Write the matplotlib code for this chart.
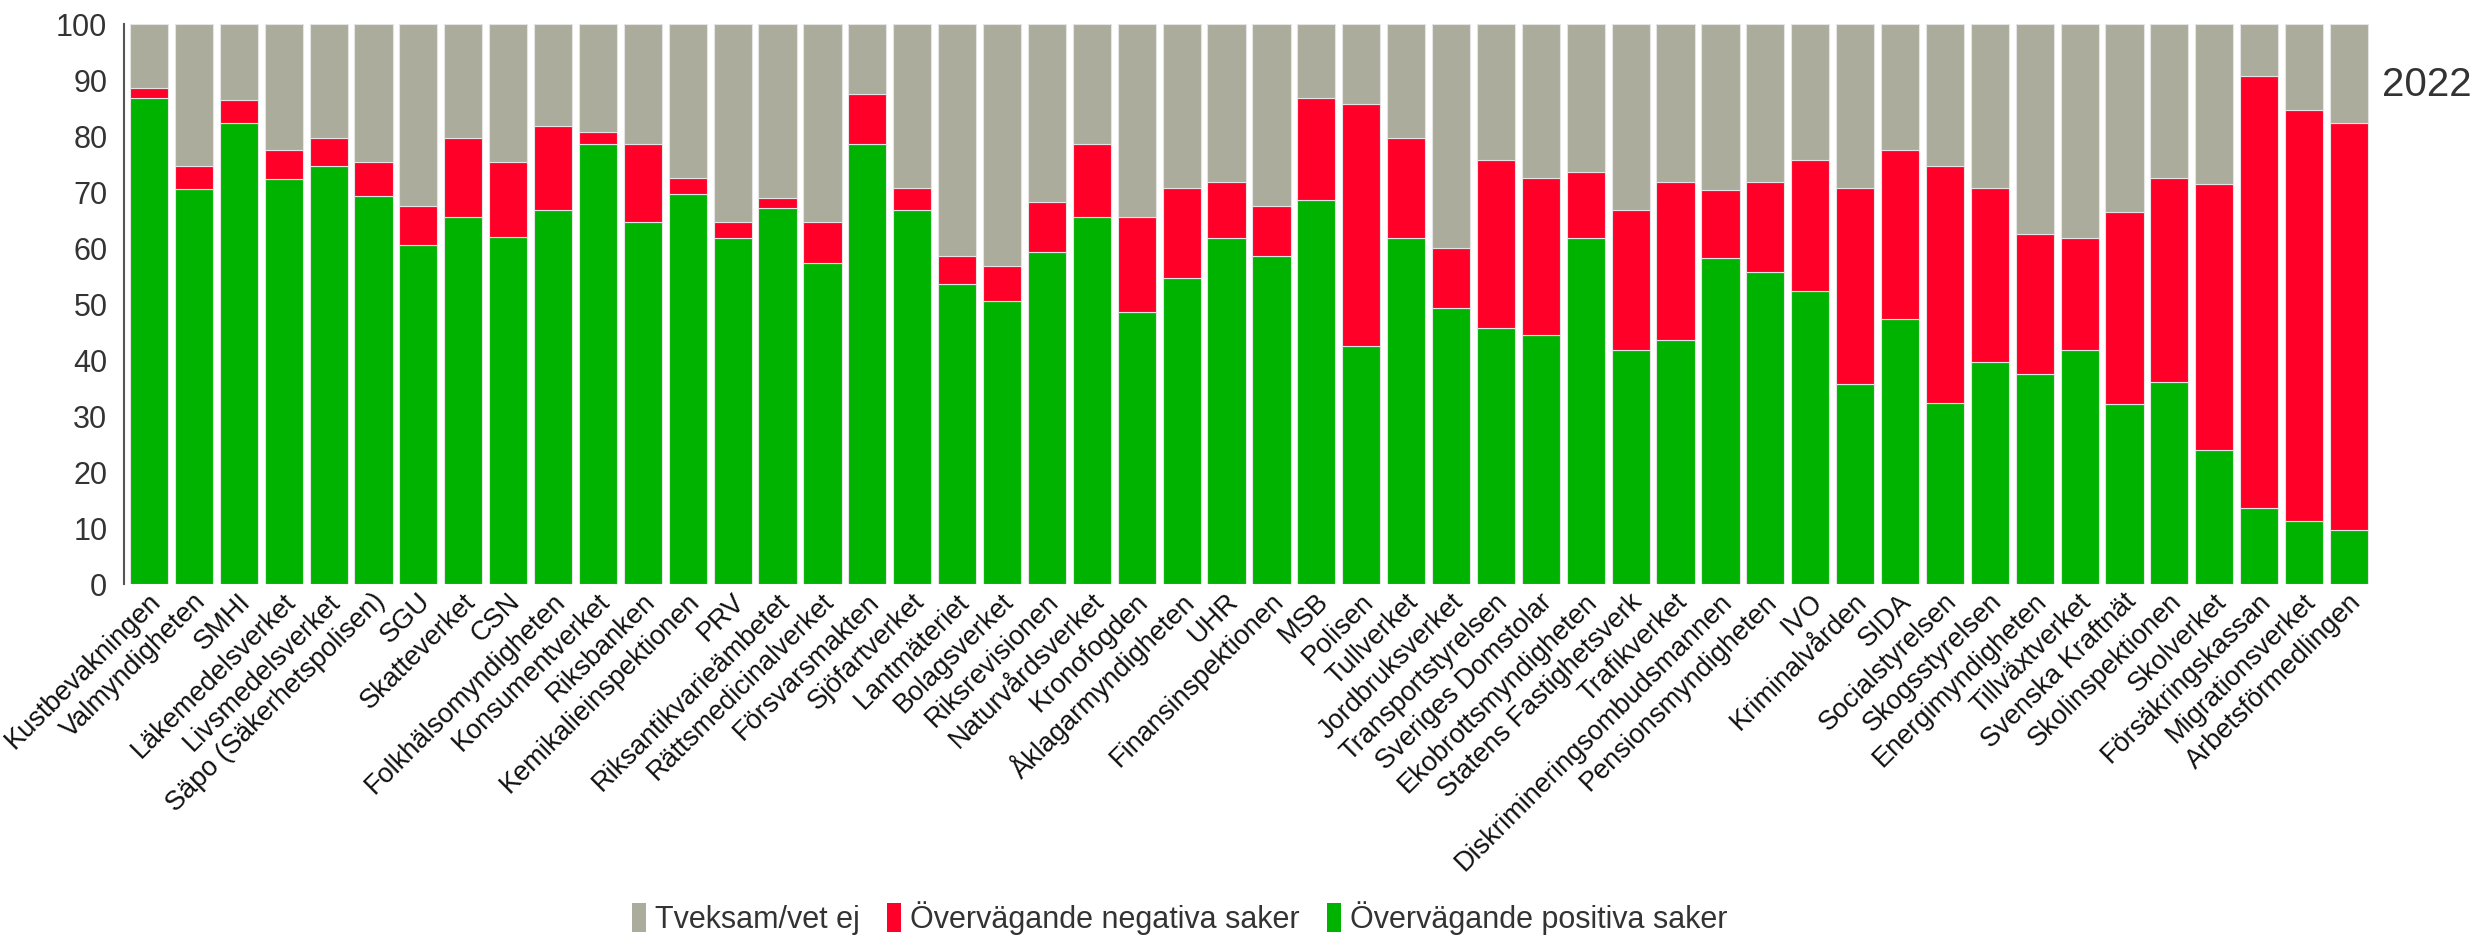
import matplotlib
matplotlib.use("Agg")
import matplotlib.pyplot as plt
import matplotlib.transforms as mtrans
from matplotlib.patches import Patch

plt.rcParams["font.family"] = ["Liberation Sans", "DejaVu Sans"]

# ── Data (percent of respondents) ─────────────────────────────────────
agencies = [
    "Kustbevakningen", "Valmyndigheten", "SMHI", "Läkemedelsverket",
    "Livsmedelsverket", "Säpo (Säkerhetspolisen)", "SGU", "Skatteverket",
    "CSN", "Folkhälsomyndigheten", "Konsumentverket", "Riksbanken",
    "Kemikalieinspektionen", "PRV", "Riksantikvarieämbetet",
    "Rättsmedicinalverket", "Försvarsmakten", "Sjöfartverket",
    "Lantmäteriet", "Bolagsverket", "Riksrevisionen", "Naturvårdsverket",
    "Kronofogden", "Åklagarmyndigheten", "UHR", "Finansinspektionen",
    "MSB", "Polisen", "Tullverket", "Jordbruksverket",
    "Transportstyrelsen", "Sveriges Domstolar", "Ekobrottsmyndigheten",
    "Statens Fastighetsverk", "Trafikverket",
    "Diskrimineringsombudsmannen", "Pensionsmyndigheten", "IVO",
    "Kriminalvården", "SIDA", "Socialstyrelsen", "Skogsstyrelsen",
    "Energimyndigheten", "Tillväxtverket", "Svenska Kraftnät",
    "Skolinspektionen", "Skolverket", "Försäkringskassan",
    "Migrationsverket", "Arbetsförmedlingen",
]

positive = [
    86.8, 70.6, 82.4, 72.4, 74.6, 69.2, 60.6, 65.6, 62.0, 66.7,
    78.5, 64.6, 69.6, 61.8, 67.1, 57.4, 78.5, 66.8, 53.6, 50.6,
    59.3, 65.6, 48.5, 54.6, 61.8, 58.6, 68.5, 42.5, 61.8, 49.3,
    45.7, 44.5, 61.8, 41.7, 43.5, 58.2, 55.7, 52.4, 35.7, 47.4,
    32.4, 39.6, 37.5, 41.7, 32.1, 36.0, 23.9, 13.5, 11.3, 9.6,
]
negative = [
    1.7, 4.0, 4.0, 5.1, 5.0, 6.1, 6.9, 14.0, 13.3, 15.0,
    2.2, 13.9, 2.9, 2.8, 1.8, 7.2, 9.0, 3.9, 5.0, 6.1,
    8.9, 12.9, 17.1, 16.1, 10.0, 8.9, 18.3, 43.2, 17.8, 10.7,
    30.0, 28.0, 11.7, 25.1, 28.3, 12.1, 16.1, 23.3, 35.0, 30.1,
    42.2, 31.1, 25.0, 20.1, 34.3, 36.5, 47.5, 77.3, 73.3, 72.8,
]
unsure = [
    11.5, 25.4, 13.6, 22.5, 20.4, 24.7, 32.5, 20.4, 24.7, 18.3,
    19.3, 21.5, 27.5, 35.4, 31.1, 35.4, 12.5, 29.3, 41.4, 43.3,
    31.8, 21.5, 34.4, 29.3, 28.2, 32.5, 13.2, 14.3, 20.4, 40.0,
    24.3, 27.5, 26.5, 33.2, 28.2, 29.7, 28.2, 24.3, 29.3, 22.5,
    25.4, 29.3, 37.5, 38.2, 33.6, 27.5, 28.6, 9.2, 15.4, 17.6,
]

series_labels = ["Tveksam/vet ej", "Övervägande negativa saker",
                 "Övervägande positiva saker"]
year_label = "2022"

GREEN = "#00B300"
RED = "#FF0029"
GREY = "#ACAC9D"
TEXT = "#333333"

# ── Figure ────────────────────────────────────────────────────────────
fig = plt.figure(figsize=(24.81, 9.38), dpi=100)
ax = fig.add_axes([124 / 2481, 1 - 584 / 938, 2247 / 2481, 560 / 938])

x = list(range(len(agencies)))
bar_kw = dict(width=0.85, edgecolor="#e4e4e4", linewidth=0.8)

bottom_neg = positive
bottom_uns = [p + n for p, n in zip(positive, negative)]
ax.bar(x, positive, color=GREEN, **bar_kw)
ax.bar(x, negative, bottom=bottom_neg, color=RED, **bar_kw)
ax.bar(x, unsure, bottom=bottom_uns, color=GREY, **bar_kw)

ax.set_xlim(-0.557, len(agencies) - 0.51)
ax.set_ylim(0, 100)
ax.set_yticks(range(0, 101, 10))
ax.tick_params(axis="y", length=0, pad=12, labelsize=22, labelcolor=TEXT)
ax.tick_params(axis="x", length=0, pad=10)
ax.set_xticks(x)
ax.set_xticklabels(agencies, rotation=45, ha="right", va="center",
                   rotation_mode="anchor", fontsize=19.5, color="#111111")

# nudge the rotated labels a little to the right, as in the original
shift = mtrans.ScaledTranslation(8 / 100, 0, fig.dpi_scale_trans)
for lbl in ax.get_xticklabels():
    lbl.set_transform(lbl.get_transform() + shift)

for side in ("top", "right", "bottom"):
    ax.spines[side].set_visible(False)
ax.spines["left"].set_color("#555555")
ax.spines["left"].set_linewidth(1.5)

fig.text(2382 / 2481, 1 - 85 / 938, year_label, fontsize=29,
         color=TEXT, ha="left", va="center")

handles = [Patch(facecolor=GREY), Patch(facecolor=RED),
           Patch(facecolor=GREEN)]
fig.legend(handles, series_labels, loc="center",
           bbox_to_anchor=(1180 / 2481, 1 - 918 / 938), ncol=3,
           frameon=False, fontsize=22, handlelength=0.45,
           handleheight=1.1, handletextpad=0.3, columnspacing=0.9,
           labelcolor=TEXT)

fig.savefig("out.png", dpi=100)
